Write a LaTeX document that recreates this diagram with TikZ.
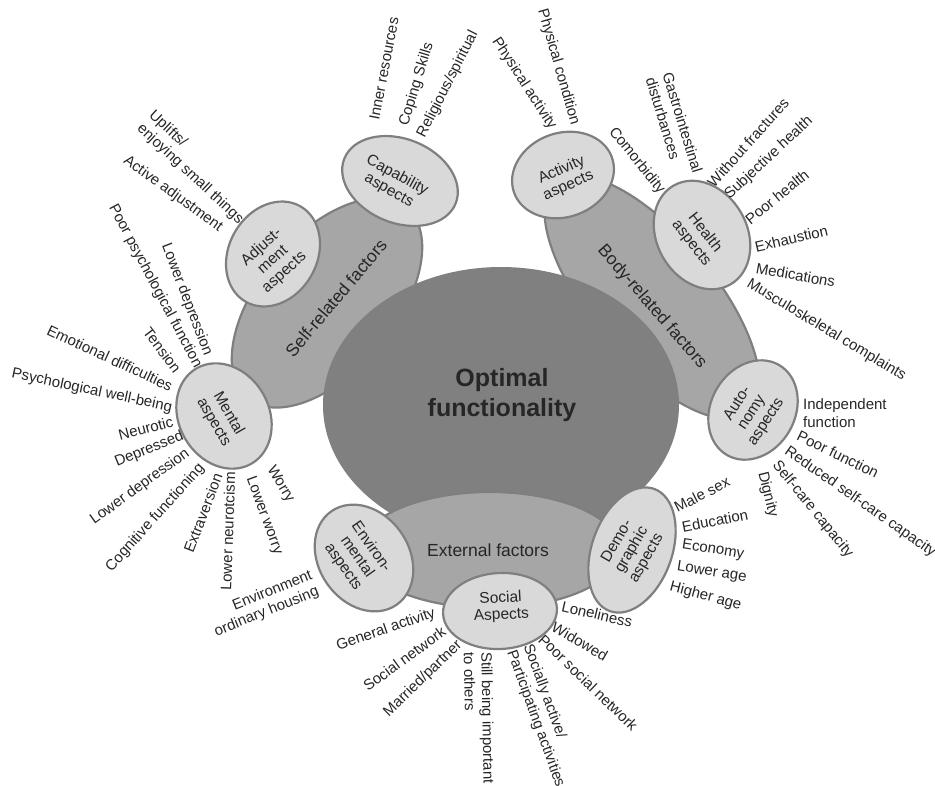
\documentclass[tikz,border=0pt]{standalone}
\usepackage{fontspec}
\setmainfont{Liberation Sans}
\usetikzlibrary{shapes.geometric}
\definecolor{darkfill}{HTML}{808080}
\definecolor{midfill}{HTML}{A6A6A6}
\definecolor{lightfill}{HTML}{D9D9D9}
\definecolor{edgegray}{HTML}{7F7F7F}
\definecolor{txt}{HTML}{262626}
\tikzset{
  factor/.style={ellipse, fill=midfill, draw=edgegray, line width=2.2pt, inner sep=0pt},
  aspect/.style={ellipse, fill=lightfill, draw=edgegray, line width=2.2pt, inner sep=0pt},
  core/.style={ellipse, fill=darkfill, inner sep=0pt},
  lbl/.style={font=\fontsize{15}{17.5}\selectfont, text=txt, inner sep=0pt},
  asptext/.style={font=\fontsize{15.5}{17}\selectfont, text=txt, inner sep=0pt, align=center},
  factext/.style={font=\fontsize{17.5}{20}\selectfont, text=txt, inner sep=0pt},
}
\begin{document}
\begin{tikzpicture}[x=1pt, y=-1pt]
\useasboundingbox (0,0) rectangle (935,785);
% factor ellipses
\node[factor, minimum width=248pt, minimum height=136pt, rotate=50] (self) at (327,303) {};
\node[factor, minimum width=300pt, minimum height=124pt, rotate=-50] (body) at (652,297) {};
\node[core, minimum width=356pt, minimum height=276pt] (core) at (501,405) {};
\node[factor, minimum width=260pt, minimum height=116pt] (ext) at (490,550) {};
% aspect ellipses
\node[aspect, minimum width=120pt, minimum height=84pt, rotate=-22] (cap) at (400,181) {};
\node[aspect, minimum width=110pt, minimum height=88pt, rotate=60] (adj) at (273,254) {};
\node[aspect, minimum width=110pt, minimum height=90pt, rotate=-60] (men) at (224,416) {};
\node[aspect, minimum width=104pt, minimum height=84pt, rotate=20] (act) at (563,175) {};
\node[aspect, minimum width=114pt, minimum height=90pt, rotate=-60] (hea) at (702,235) {};
\node[aspect, minimum width=104pt, minimum height=84pt, rotate=60] (aut) at (753,410) {};
\node[aspect, minimum width=130pt, minimum height=80pt, rotate=70] (dem) at (632,550) {};
\node[aspect, minimum width=114pt, minimum height=76pt, rotate=3] (soc) at (500,611) {};
\node[aspect, minimum width=114pt, minimum height=90pt, rotate=-55] (env) at (364,558) {};
% central and factor texts
\node[text=txt, font=\fontsize{25}{30}\selectfont\bfseries, align=center, inner sep=0pt] (coret) at (502,395) {Optimal\\functionality};
\node[factext, rotate=50] (selft) at (336,298) {Self-related factors};
\node[factext, rotate=-49] (bodyt) at (652,307) {Body-related factors};
\node[factext] (extt) at (488,550) {External factors};
% aspect texts
\node[asptext, rotate=-29] (capt) at (393,183) {Capability\\aspects};
\node[asptext, rotate=42] (adjt) at (273,260) {Adjust-\\ment\\aspects};
\node[asptext, rotate=-60] (ment) at (221,418) {Mental\\aspects};
\node[asptext, rotate=24] (actt) at (565,178) {Activity\\aspects};
\node[asptext, rotate=-52] (heat) at (698,238) {Health\\aspects};
\node[asptext, rotate=57] (autt) at (752,413) {Auto-\\nomy\\aspects};
\node[asptext, rotate=60] (demt) at (632,550) {Demo-\\graphic\\aspects};
\node[asptext, rotate=3] (soct) at (501,607) {Social\\Aspects};
\node[asptext, rotate=-55] (envt) at (357,557) {Environ-\\mental\\aspects};
% capability labels
\node[lbl, anchor=west, rotate=79] (c1) at (374,120) {Inner resources};
\node[lbl, anchor=west, rotate=73] (c2) at (404,126) {Coping Skills};
\node[lbl, anchor=west, rotate=63] (c3) at (421,137) {Religious/spiritual};
% adjustment labels
\node[lbl, anchor=west, rotate=-43, align=left] (a1) at (145,120) {Uplifts/\\enjoying small things};
\node[lbl, anchor=east, rotate=-36] (a2) at (221,229) {Active adjustment};
% mental labels
\node[lbl, anchor=east, rotate=-69] (m1) at (208,355) {Lower depression};
\node[lbl, anchor=east, rotate=-62] (m2) at (198,367) {Poor psychological function};
\node[lbl, anchor=east, rotate=-53] (m3) at (178,371) {Tension};
\node[lbl, anchor=east, rotate=-25] (m4) at (172,387) {Emotional difficulties};
\node[lbl, anchor=east, rotate=-12] (m5) at (172,408) {Psychological well-being};
\node[lbl, anchor=east, rotate=15] (m6) at (173,421) {Neurotic};
\node[lbl, anchor=east, rotate=22] (m7) at (183,436) {Depressed};
\node[lbl, anchor=east, rotate=36] (m8) at (188,452) {Lower depression};
\node[lbl, anchor=east, rotate=48] (m9) at (202,466) {Cognitive functioning};
\node[lbl, anchor=east, rotate=69] (m10) at (218,474) {Extraversion};
\node[lbl, anchor=east, rotate=88] (m11) at (230,472) {Lower neurotcism};
\node[lbl, anchor=west, rotate=-70] (m12) at (250,477) {Lower worry};
\node[lbl, anchor=west, rotate=-59] (m13) at (270,467) {Worry};
% environmental labels
\node[lbl, anchor=east, rotate=22, align=right] (e1) at (315,583) {Environment\\ordinary housing};
% social labels
\node[lbl, anchor=east, rotate=19] (s1) at (435,613) {General activity};
\node[lbl, anchor=east, rotate=36] (s2) at (444,630) {Social network};
\node[lbl, anchor=east, rotate=44] (s3) at (460,643) {Married/partner};
\node[lbl, anchor=west, rotate=-89, align=left] (s4) at (478,652) {Still being important\\to others};
\node[lbl, anchor=west, rotate=-70, align=left] (s5) at (519,648) {Socially active/\\Participating activities};
\node[lbl, anchor=west, rotate=-44] (s6) at (541,637) {Poor social network};
\node[lbl, anchor=west, rotate=-30] (s7) at (553,626) {Widowed};
\node[lbl, anchor=west, rotate=-13] (s8) at (562,606) {Loneliness};
% demographic labels
\node[lbl, anchor=west, rotate=27] (d1) at (675,508) {Male sex};
\node[lbl, anchor=west, rotate=11] (d2) at (682,527) {Education};
\node[lbl, anchor=west, rotate=-9] (d3) at (682,545) {Economy};
\node[lbl, anchor=west, rotate=-9] (d4) at (677,567) {Lower age};
\node[lbl, anchor=west, rotate=-15] (d5) at (670,587) {Higher age};
% autonomy labels
\node[lbl, anchor=west, align=left] (u1) at (803,413) {Independent\\function};
\node[lbl, anchor=west, rotate=-26] (u2) at (798,435) {Poor function};
\node[lbl, anchor=west, rotate=-35] (u3) at (786,450) {Reduced self-care capacity};
\node[lbl, anchor=west, rotate=-51] (u4) at (775,463) {Self-care capacity};
\node[lbl, anchor=west, rotate=-76] (u5) at (762,472) {Dignity};
% health labels
\node[lbl, anchor=east, rotate=-51] (h1) at (662,192) {Comorbidity};
\node[lbl, anchor=west, rotate=-73, align=left] (h2) at (659,75) {Gastrointestinal\\disturbances};
\node[lbl, anchor=west, rotate=48] (h3) at (710,185) {Without fractures};
\node[lbl, anchor=west, rotate=43] (h4) at (727,197) {Subjective health};
\node[lbl, anchor=west, rotate=39] (h5) at (747,221) {Poor health};
\node[lbl, anchor=west, rotate=13] (h6) at (755,247) {Exhaustion};
\node[lbl, anchor=west, rotate=-10] (h7) at (756,268) {Medications};
\node[lbl, anchor=west, rotate=-31] (h8) at (748,283) {Musculoskeletal complaints};
% activity labels
\node[lbl, anchor=east, rotate=-57] (p1) at (553,128) {Physical activity};
\node[lbl, anchor=east, rotate=-74] (p2) at (575,125) {Physical condition};
\end{tikzpicture}
\end{document}
